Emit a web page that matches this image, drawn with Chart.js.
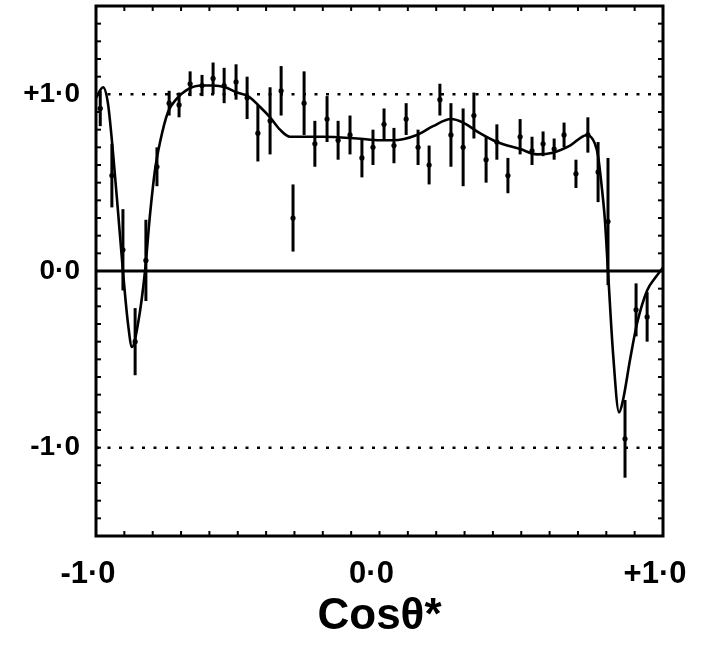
<!DOCTYPE html>
<html><head><meta charset="utf-8">
<script src="https://cdn.jsdelivr.net/npm/chart.js@4/dist/chart.umd.min.js"></script>
<style>html,body{margin:0;padding:0;background:#fff;overflow:hidden}</style>
</head><body>
<canvas id="c" width="708" height="647"></canvas>
<script>
// Measured points (cos theta*, value, error)
const pointX = [-0.985,-0.944,-0.905,-0.862,-0.824,-0.785,-0.742,-0.707,-0.668,-0.626,-0.587,-0.548,-0.506,-0.467,-0.429,-0.386,-0.347,-0.305,-0.266,-0.228,-0.185,-0.146,-0.104,-0.062,-0.023,0.016,0.051,0.094,0.136,0.175,0.213,0.252,0.295,0.333,0.376,0.414,0.453,0.496,0.538,0.577,0.616,0.651,0.693,0.735,0.771,0.806,0.866,0.905,0.944];
const pointY = [0.92,0.54,0.12,-0.40,0.06,0.59,0.95,0.94,1.06,1.05,1.09,1.05,1.07,0.98,0.78,0.85,1.02,0.30,0.95,0.72,0.86,0.74,0.77,0.64,0.70,0.83,0.71,0.86,0.70,0.60,0.97,0.77,0.70,0.88,0.63,0.73,0.54,0.76,0.68,0.72,0.69,0.77,0.55,0.77,0.56,0.28,-0.95,-0.22,-0.26];
const pointErr = [0.10,0.18,0.23,0.19,0.23,0.11,0.07,0.07,0.07,0.06,0.09,0.10,0.10,0.12,0.16,0.19,0.14,0.19,0.18,0.13,0.13,0.11,0.11,0.11,0.10,0.09,0.10,0.09,0.10,0.11,0.09,0.18,0.22,0.13,0.13,0.10,0.10,0.10,0.08,0.07,0.06,0.07,0.08,0.10,0.17,0.36,0.22,0.15,0.14];
// Fitted curve
const curveX = [-1.0,-0.975,-0.958,-0.940,-0.922,-0.905,-0.887,-0.873,-0.852,-0.827,-0.810,-0.792,-0.774,-0.746,-0.718,-0.675,-0.626,-0.587,-0.545,-0.503,-0.464,-0.422,-0.386,-0.351,-0.316,-0.270,-0.199,-0.079,0.002,0.048,0.132,0.189,0.252,0.295,0.354,0.414,0.496,0.556,0.612,0.672,0.732,0.760,0.771,0.785,0.795,0.806,0.824,0.845,0.859,0.884,0.908,0.944,0.972,1.0];
const curveY = [0.98,1.04,0.95,0.67,0.33,0.0,-0.30,-0.43,-0.30,0.0,0.31,0.57,0.73,0.90,0.97,1.03,1.05,1.05,1.04,1.01,0.99,0.93,0.87,0.80,0.76,0.76,0.76,0.75,0.74,0.74,0.77,0.82,0.86,0.84,0.78,0.73,0.69,0.66,0.67,0.71,0.77,0.72,0.65,0.46,0.29,0.0,-0.47,-0.80,-0.73,-0.50,-0.30,-0.11,-0.04,0.02];
// Reference lines
const zeroLineY = 0;
const dottedLinesY = [1, -1];
// Ticks
const xTickValues = [-1.0,-0.9,-0.8,-0.7,-0.6,-0.5,-0.4,-0.3,-0.2,-0.1,0.0,0.1,0.2,0.3,0.4,0.5,0.6,0.7,0.8,0.9,1.0];
const yTickValues = [-1.5,-1.4,-1.3,-1.2,-1.1,-1.0,-0.9,-0.8,-0.7,-0.6,-0.5,-0.4,-0.3,-0.2,-0.1,0.0,0.1,0.2,0.3,0.4,0.5,0.6,0.7,0.8,0.9,1.0,1.1,1.2,1.3,1.4,1.5];
const xLabelValues = [-1, 0, 1];
const xLabelTexts = ['-1·0', '0·0', '+1·0'];
const yLabelValues = [-1, 0, 1];
const yLabelTexts = ['-1·0', '0·0', '+1·0'];
const xTitle = 'Cosθ*';

function labelFor(v, vals, texts){
  for (let i=0;i<vals.length;i++) if (Math.abs(v-vals[i])<1e-9) return texts[i];
  return '';
}

const errorBarPlugin = {
  id: 'errbars',
  afterDatasetsDraw(chart){
    const {ctx, chartArea:a, scales:{x, y}} = chart;
    ctx.save();
    ctx.beginPath(); ctx.rect(a.left, a.top, a.width, a.height); ctx.clip();
    ctx.strokeStyle = '#000'; ctx.lineWidth = 3; ctx.lineCap = 'butt';
    pointX.forEach((xv,i)=>{
      const px = x.getPixelForValue(xv);
      ctx.beginPath();
      ctx.moveTo(px, y.getPixelForValue(pointY[i]-pointErr[i]));
      ctx.lineTo(px, y.getPixelForValue(pointY[i]+pointErr[i]));
      ctx.stroke();
    });
    ctx.restore();
  }
};

const framePlugin = {
  id: 'frame',
  afterDraw(chart){
    const {ctx, chartArea:a, scales:{x, y}} = chart;
    ctx.save();
    ctx.strokeStyle = '#000';
    ctx.lineWidth = 3;
    ctx.strokeRect(a.left, a.top, a.width, a.height);
    ctx.lineWidth = 2;
    const L = 5;
    const seg = (x1,y1,x2,y2)=>{ctx.beginPath();ctx.moveTo(x1,y1);ctx.lineTo(x2,y2);ctx.stroke();};
    x.ticks.forEach(t=>{
      const px = x.getPixelForValue(t.value);
      seg(px, a.bottom, px, a.bottom-L);
      seg(px, a.top, px, a.top+L);
    });
    y.ticks.forEach(t=>{
      const py = y.getPixelForValue(t.value);
      seg(a.left, py, a.left+L, py);
      seg(a.right, py, a.right-L, py);
    });
    ctx.restore();
  }
};

const font = (size)=>({family:'Liberation Sans', weight:'bold', size});

new Chart(document.getElementById('c'), {
  type: 'scatter',
  data: {
    datasets: [
      {type:'line', data:[{x:-1,y:zeroLineY},{x:1,y:zeroLineY}], borderColor:'#000', borderWidth:3, pointRadius:0},
      {type:'line', data:[{x:-1,y:dottedLinesY[0]},{x:1,y:dottedLinesY[0]}], borderColor:'#000', borderWidth:2.5, borderDash:[3,8.5], pointRadius:0},
      {type:'line', data:[{x:-1,y:dottedLinesY[1]},{x:1,y:dottedLinesY[1]}], borderColor:'#000', borderWidth:2.5, borderDash:[3,8.5], pointRadius:0},
      {type:'line', data:curveX.map((v,i)=>({x:v,y:curveY[i]})), borderColor:'#000', borderWidth:2.6, pointRadius:0, cubicInterpolationMode:'monotone', fill:false},
      {type:'scatter', data:pointX.map((v,i)=>({x:v,y:pointY[i]})), pointRadius:2.6, backgroundColor:'#000', borderWidth:0}
    ]
  },
  options: {
    responsive: false,
    animation: false,
    devicePixelRatio: 1,
    layout: {padding:{top:6, right:45, left:0, bottom:0}},
    plugins: {legend:{display:false}, tooltip:{enabled:false}},
    scales: {
      x: {
        type:'linear', min:-1, max:1,
        afterBuildTicks(s){ s.ticks = xTickValues.map(v=>({value:v})); },
        afterFit(s){ s.height = 111; s.paddingLeft = 0; s.paddingRight = 0; },
        grid:{display:false, drawTicks:false}, border:{display:false},
        ticks:{autoSkip:false, maxRotation:0, padding:20, labelOffset:-8, color:'#000', font:font(31),
          callback:(v)=>labelFor(v, xLabelValues, xLabelTexts)},
        title:{display:true, text:xTitle, color:'#000', font:font(44), padding:{top:0,bottom:4}}
      },
      y: {
        type:'linear', min:-1.5, max:1.5,
        afterBuildTicks(s){ s.ticks = yTickValues.map(v=>({value:v})); },
        afterFit(s){ s.width = 96; s.paddingTop = 0; s.paddingBottom = 0; },
        grid:{display:false, drawTicks:false}, border:{display:false},
        ticks:{autoSkip:false, padding:16, color:'#000', font:font(28),
          callback:(v)=>labelFor(v, yLabelValues, yLabelTexts)}
      }
    }
  },
  plugins:[errorBarPlugin, framePlugin]
});
</script>
</body></html>
